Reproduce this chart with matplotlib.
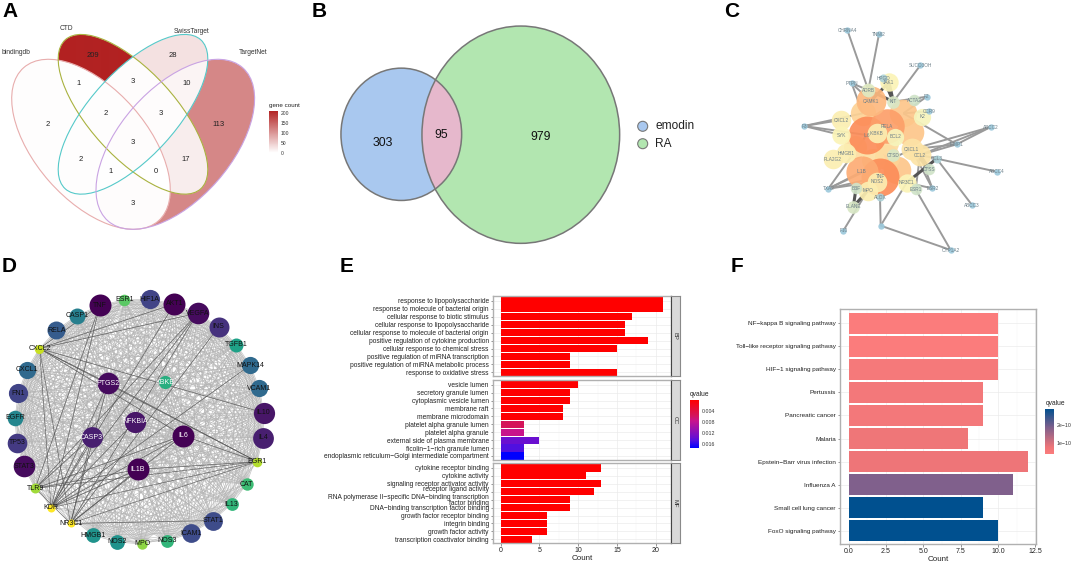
import numpy as np
import matplotlib
matplotlib.use('Agg')
import matplotlib.pyplot as plt
from matplotlib.collections import LineCollection
from matplotlib.colors import LinearSegmentedColormap, Normalize
from matplotlib.cm import ScalarMappable
from matplotlib.patches import Ellipse

plt.rcParams['font.family'] = ['Liberation Sans', 'DejaVu Sans']

W, H = 1072, 561

# --- panel A
venn_sets = ['bindingdb', 'CTD', 'SwissTarget', 'TargetNet']
venn_counts = {'b': 2, 'c': 209, 's': 28, 't': 113, 'bc': 1, 'cs': 3, 'st': 10, 'bcs': 2,
               'cst': 3, 'bcst': 3, 'bs': 2, 'ct': 17, 'bst': 1, 'bct': 0, 'bt': 3}
# --- panel B
b_left, b_both, b_right = 303, 95, 979
b_names = ['emodin', 'RA']
# --- panel C, node positions are the layout
c_names = ['CHRNA4', 'TNNI2', 'SUCO3OH', 'PTPN', 'F3', 'ABCC2', 'ABCC4', 'ABCC3', 'F10', 'TXA2', '', 'CYP1A2',
           'MMP1', 'ESR2', 'F2', 'CCR9', 'HPGD', 'ALOX', 'CCL3', 'CTSS', 'ACTA2', 'ELANE', 'BBF', 'ESR1', 'CTSD',
           'KIT', 'ADRB', 'JAK1', 'CXCL2', 'SYK', 'PLA2G2', 'HMGB1', 'NR3C1', 'MPO', 'K2', 'BCL2', 'IL2', 'CAMK1',
           'ICAM', 'TA', 'CXCL1', 'CCL2', 'NOS2', 'IKBKB', 'RELA', 'TNF', 'IL6', 'IL1B',
           'AKT1', 'PTGS2', 'VEGFA', 'STAT3', 'CASP3']
c_x = [322, 417, 541, 335, 192, 752, 770, 696, 310, 265, 422, 632,
       650, 577, 560, 568, 430, 420, 590, 568, 522, 340, 348, 527, 460,
       460, 385, 447, 303, 303, 278, 318, 500, 383, 547, 465, 440, 392,
       368, 490, 515, 540, 410, 410, 440, 420, 380, 365,
       510, 470, 400, 345, 440]
c_y = [90, 102, 196, 250, 378, 381, 515, 615, 692, 566, 677, 750,
       433, 565, 290, 334, 235, 592, 476, 507, 300, 620, 565, 568, 465,
       305, 270, 247, 360, 405, 477, 460, 548, 572, 350, 410, 430, 303,
       340, 340, 448, 465, 545, 400, 378, 530, 405, 515,
       395, 510, 480, 440, 470]
c_degree = [5.5, 5.5, 5.5, 5.5, 5.5, 5.5, 5.5, 5.5, 5.5, 5.5, 5.5, 5.5,
            5.5, 5.5, 5.5, 5.5, 7, 7, 7, 10, 10, 11, 10, 10, 11,
            11, 12, 16, 17, 16, 17, 17, 16, 17, 15, 15, 20, 26,
            22, 24, 19, 19, 17, 17, 30, 33, 33, 28,
            24, 24, 20, 20, 22]
# these sit underneath the biggest nodes and their labels can't be seen
c_hidden = ['AKT1', 'PTGS2', 'VEGFA', 'STAT3', 'CASP3', 'IL2', 'ICAM', 'TA']
c_edges = [('CHRNA4', 'ADRB'), ('TNNI2', 'ADRB'), ('SUCO3OH', 'KIT'), ('PTPN', 'ADRB'), ('PTPN', 'ICAM'),
           ('PTPN', 'CAMK1'), ('F3', 'CXCL2'), ('F3', 'SYK'), ('F3', 'ICAM'), ('F3', 'IL6'),
           ('ABCC2', 'MMP1'), ('ABCC2', 'CCL2'), ('ABCC2', 'CXCL1'), ('ABCC4', 'CCL2'), ('ABCC3', 'CCL3'),
           ('F10', 'MPO'), ('TXA2', 'CXCL1'), ('TXA2', 'TNF'), ('TXA2', 'IL1B'), ('TXA2', 'NOS2'), ('TXA2', 'IL6'),
           ('', 'ALOX'), ('', 'NR3C1'), ('', 'CYP1A2'), ('CYP1A2', 'ESR1'), ('MMP1', 'CCL2'), ('MMP1', 'CXCL1'),
           ('MMP1', 'TA'), ('ESR2', 'CCL2'), ('ESR2', 'CXCL1'), ('ESR2', 'NR3C1'), ('F2', 'TA'), ('F2', 'KIT'),
           ('CCR9', 'TA'), ('ALOX', 'NOS2'), ('ESR1', 'CCL2'), ('HPGD', 'KIT')]
c_dark_edges = [('JAK1', 'KIT'), ('JAK1', 'CAMK1'), ('HPGD', 'KIT'), ('ADRB', 'KIT'), ('BBF', 'ELANE'),
                ('MPO', 'ELANE'), ('CCL2', 'CTSS'), ('CXCL1', 'CTSS'), ('BBF', 'MPO'), ('NR3C1', 'CCL3')]
# --- panel D
d_ring = ['ESR1', 'HIF1A', 'AKT1', 'VEGFA', 'INS', 'TGFB1', 'MAPK14', 'VCAM1', 'IL10', 'IL4', 'EGR1', 'CAT',
          'IL13', 'STAT1', 'ICAM1', 'NOS3', 'MPO', 'NOS2', 'HMGB1', 'NR3C1', 'KDR', 'TLR9', 'STAT3', 'TP53',
          'EGFR', 'FN1', 'CXCL1', 'CXCL2', 'RELA', 'CASP1', 'TNF']
d_ring_degree = [10, 29, 36, 35, 31, 16, 24, 24, 34, 33, 5, 12,
                 13, 28, 28, 13, 7, 18, 18, 1, 1, 6, 35, 30,
                 20, 29, 24, 4, 26, 21, 36]
d_inner = ['KBKB', 'PTGS2', 'CASP3', 'IL1B', 'IL6', 'NFKBIA']
d_inner_degree = [14, 35, 33, 36, 36, 34]
d_dark = [('KDR', 'IL1B'), ('KDR', 'IL6'), ('KDR', 'CASP3'), ('KDR', 'PTGS2'), ('KDR', 'VEGFA'), ('KDR', 'TNF'),
          ('KDR', 'MAPK14'), ('KDR', 'AKT1'), ('KDR', 'EGR1'), ('KDR', 'CXCL2'), ('KDR', 'NFKBIA'),
          ('NR3C1', 'IL1B'), ('NR3C1', 'IL6'), ('NR3C1', 'CASP3'), ('NR3C1', 'PTGS2'), ('NR3C1', 'VEGFA'),
          ('NR3C1', 'STAT1'), ('NR3C1', 'EGR1'), ('NR3C1', 'INS'), ('NR3C1', 'CXCL2'), ('NR3C1', 'TLR9'),
          ('TLR9', 'IL1B'), ('TLR9', 'IL6'), ('TLR9', 'CASP3'), ('TLR9', 'VEGFA'), ('TLR9', 'TNF'), ('TLR9', 'EGR1'),
          ('CXCL2', 'AKT1'), ('CXCL2', 'VEGFA'), ('CXCL2', 'PTGS2'), ('CXCL2', 'TNF'), ('CXCL2', 'EGR1'),
          ('CXCL2', 'IL10'), ('CXCL2', 'IL6'), ('PTGS2', 'EGR1'), ('EGR1', 'IL6'), ('EGR1', 'IL1B')]
# --- panel E
e_terms = {
    'BP': ['response to lipopolysaccharide', 'response to molecule of bacterial origin',
           'cellular response to biotic stimulus', 'cellular response to lipopolysaccharide',
           'cellular response to molecule of bacterial origin', 'positive regulation of cytokine production',
           'cellular response to chemical stress', 'positive regulation of miRNA transcription',
           'positive regulation of miRNA metabolic process', 'response to oxidative stress'],
    'CC': ['vesicle lumen', 'secretory granule lumen', 'cytoplasmic vesicle lumen', 'membrane raft',
           'membrane microdomain', 'platelet alpha granule lumen', 'platelet alpha granule',
           'external side of plasma membrane', 'ficolin\u22121\u2212rich granule lumen',
           'endoplasmic reticulum\u2212Golgi intermediate compartment'],
    'MF': ['cytokine receptor binding', 'cytokine activity', 'signaling receptor activator activity',
           'receptor ligand activity\n ', 'RNA polymerase II\u2212specific DNA\u2212binding transcription\nfactor binding',
           'DNA\u2212binding transcription factor binding', 'growth factor receptor binding', 'integrin binding',
           'growth factor activity', 'transcription coactivator binding'],
}
e_counts = {'BP': [21, 21, 17, 16, 16, 19, 15, 9, 9, 15],
            'CC': [10, 9, 9, 8, 8, 3, 3, 5, 3, 3],
            'MF': [13, 11, 13, 12, 9, 9, 6, 6, 6, 4]}
e_qvalue = {'BP': [0.00001] * 10,
            'CC': [0.0001, 0.0001, 0.0001, 0.0002, 0.0002, 0.0055, 0.0075, 0.0135, 0.0145, 0.0173],
            'MF': [0.00001] * 10}
e_q_ticks = [0.004, 0.008, 0.012, 0.016]
# --- panel F
f_terms = ['NF\u2212kappa B signaling pathway', 'Toll\u2212like receptor signaling pathway', 'HIF\u22121 signaling pathway',
           'Pertussis', 'Pancreatic cancer', 'Malaria', 'Epstein\u2212Barr virus infection', 'Influenza A',
           'Small cell lung cancer', 'FoxO signaling pathway']
f_counts = [10, 10, 10, 9, 9, 8, 12, 11, 9, 10]
f_qvalue = [0.36e-10, 0.37e-10, 0.55e-10, 0.6e-10, 0.6e-10, 0.7e-10, 0.75e-10, 1.85e-10, 2.92e-10, 2.92e-10]

fig = plt.figure(figsize=(W / 100, H / 100), dpi=100, facecolor='white')


def px_axes(x0, y0, x1, y1, **kw):
    return fig.add_axes([x0 / W, 1 - y1 / H, (x1 - x0) / W, (y1 - y0) / H], **kw)


# whole figure axes in pixels, y pointing down, for the venns and the networks
ax = px_axes(0, 0, W, H)
ax.set_xlim(0, W)
ax.set_ylim(H, 0)
ax.axis('off')


def dot(d):
    return (d * 0.72) ** 2


for txt, x, y in [('A', 2, 17), ('B', 312, 17), ('C', 724, 17), ('D', 2, 272), ('E', 340, 272), ('F', 731, 272)]:
    ax.text(x, y, txt, fontsize=15, fontweight='bold', va='baseline', color='black')

# A: four set venn, regions filled from their counts
venn_cmap = LinearSegmentedColormap.from_list('venn', ['white', '#b22222'])
venn_norm = Normalize(0, 209)
ell = {'b': (91, 144.3, 102, 55.8), 'c': (133, 114.3, 100.7, 42.8),
       's': (133, 114.3, 100.7, 42.8), 't': (175.3, 144.3, 102, 55.8)}
ang = {'b': 48.7, 'c': 47.7, 's': -47.7, 't': -48.7}
gx, gy = np.meshgrid(np.arange(0, 265, 0.25), np.arange(20, 240, 0.25))
masks = {}
for k, (cx, cy, a, b) in ell.items():
    t = np.radians(ang[k])
    u = (gx - cx) * np.cos(t) + (gy - cy) * np.sin(t)
    v = -(gx - cx) * np.sin(t) + (gy - cy) * np.cos(t)
    masks[k] = (u / a) ** 2 + (v / b) ** 2 <= 1
img = np.ones(gx.shape + (4,))
img[..., 3] = 0
for region, n in venn_counts.items():
    m = np.ones(gx.shape, bool)
    for k in 'bcst':
        m &= masks[k] if k in region else ~masks[k]
    img[m] = venn_cmap(venn_norm(n))
    ax.text(gx[m].mean(), gy[m].mean(), str(n), fontsize=5.5, ha='center', va='center', color='#222222', zorder=3)
ax.imshow(img, extent=(-0.125, 264.875, 239.875, 19.875), interpolation='antialiased', aspect='auto', zorder=1)
ax.set_xlim(0, W)
ax.set_ylim(H, 0)
for k, c in zip('bcst', ['#e8adad', '#a9b23f', '#55c9c9', '#c9a3e3']):
    cx, cy, a, b = ell[k]
    ax.add_patch(Ellipse((cx, cy), 2 * a, 2 * b, angle=ang[k], fill=False, ec=c, lw=0.8, zorder=2))
for name, x, y in zip(venn_sets, [16, 66, 192, 253], [52, 28, 31, 52]):
    ax.text(x, y, name, fontsize=4.8, ha='center', va='center', color='#333333')
cax = px_axes(269, 110.7, 278, 152.7)
cb = fig.colorbar(ScalarMappable(venn_norm, venn_cmap), cax=cax, ticks=[0, 50, 100, 150, 200])
cb.outline.set_visible(False)
cax.tick_params(labelsize=3.6, length=0, pad=2, colors='#333333')
ax.text(269, 105, 'gene count', fontsize=4.5, va='center', color='#222222')

# B: two circle venn
blue = Ellipse((401.3, 134.3), 120.7, 132.3, fc='#a9c8ef', ec='none', zorder=1)
green = Ellipse((520.8, 134.7), 197.7, 217.3, fc='#b2e6b0', ec='none', zorder=1.1)
both = Ellipse((401.3, 134.3), 120.7, 132.3, fc='#e6b8cc', ec='none', zorder=1.2)
for p in (blue, green, both):
    ax.add_patch(p)
both.set_clip_path(Ellipse((520.8, 134.7), 197.7, 217.3, transform=ax.transData))
for cxy, w, h in [((401.3, 134.3), 120.7, 132.3), ((520.8, 134.7), 197.7, 217.3)]:
    ax.add_patch(Ellipse(cxy, w, h, fill=False, ec='#777777', lw=1.1, zorder=1.3))
for v, x, y in [(b_left, 382.5, 142.5), (b_both, 441.5, 134.5), (b_right, 540.5, 137)]:
    ax.text(x, y, str(v), fontsize=8.8, ha='center', va='center', color='#111111', zorder=2)
ax.scatter([642.7, 642.7], [126.3, 143.7], s=dot(10), c=['#a9c8ef', '#b2e6b0'], edgecolors='#777777', lw=0.8, zorder=2)
for nm, y in zip(b_names, [126.3, 143.7]):
    ax.text(655.5, y, nm, fontsize=8.6, va='center', color='#222222', zorder=2)

# C: force layout network, colour and size from degree
c_cmap = LinearSegmentedColormap.from_list('c', [(0, '#9cc9dc'), (0.158, '#cfe3c8'), (0.368, '#fbf6b9'),
                                                 (0.649, '#fdca8e'), (1, '#fc8d59')])
c_norm = Normalize(5.5, 33)
c_pos = {n: (740 + x / 3, y / 3) for n, x, y in zip(c_names, c_x, c_y)}
ax.add_collection(LineCollection([[c_pos[a], c_pos[b]] for a, b in c_edges], colors='#9a9a9a', linewidths=1.4, zorder=1))
ax.add_collection(LineCollection([[c_pos[a], c_pos[b]] for a, b in c_dark_edges], colors='#555555', linewidths=2.2, zorder=1))
c_order = sorted(range(len(c_names)), key=lambda i: (c_names[i] not in c_hidden, -c_degree[i]))
for z, i in enumerate(c_order):
    n = c_names[i]
    ax.scatter(*c_pos[n], s=dot(c_degree[i] * 1.15), color=c_cmap(c_norm(c_degree[i])), alpha=0.92, lw=0, zorder=1.5 + z * 0.01)
    if n not in c_hidden:
        ax.text(*c_pos[n], n, fontsize=3.4, ha='center', va='center', color='#6d7f88', zorder=2.5)

# D: circular layout with a pentagon inside
d_xy = {}
for i, n in enumerate(d_ring):
    t = np.radians(97 - i * 360 / len(d_ring))
    d_xy[n] = (139.5 + 124.5 * np.cos(t), 421.5 - 122.5 * np.sin(t))
for i, n in enumerate(d_inner[:5]):
    t = np.radians(55 + i * 72)
    d_xy[n] = (137 + 48 * np.cos(t), 421.5 - 48 * np.sin(t))
d_xy[d_inner[5]] = (135, 421.5)
d_deg = dict(zip(d_ring + d_inner, d_ring_degree + d_inner_degree))
d_nodes = d_ring + d_inner
light = []
for i, a in enumerate(d_nodes):
    for b in d_nodes[i + 1:]:
        if d_deg[a] + d_deg[b] >= 22:
            light.append([d_xy[a], d_xy[b]])
ax.add_collection(LineCollection(light, colors='#b4b4b4', linewidths=0.5, alpha=0.8, zorder=1))
ax.add_collection(LineCollection([[d_xy[a], d_xy[b]] for a, b in d_dark], colors='#4d4d4d', linewidths=0.5, alpha=0.8, zorder=1.1))
for n in d_nodes:
    d = 8 + 14 * (d_deg[n] - 1) / 35
    ax.scatter(*d_xy[n], s=dot(d), color=plt.cm.viridis_r((d_deg[n] - 1) / 35), lw=0, zorder=2)
    col = 'white' if n in d_inner else '#111111'
    ax.text(*d_xy[n], n, fontsize=5, ha='center', va='center', color=col, zorder=3)


# ggplot style axes for E and F
def style(a, xlim):
    a.set_xlim(*xlim)
    a.grid(True, which='major', color='#ebebeb', lw=0.5)
    a.grid(True, which='minor', color='#f2f2f2', lw=0.3)
    a.set_axisbelow(True)
    for s in a.spines.values():
        s.set_color('#b0b0b0')
        s.set_linewidth(1.0)
    a.tick_params(which='major', length=1.8, width=0.4, color='#444444', labelcolor='#222222', pad=1)
    a.tick_params(which='minor', length=0)


# E: three facets
e_cmap = LinearSegmentedColormap.from_list('q', [(0, '#ff0000'), (0.318, '#d4145a'), (0.433, '#c8148c'),
                                                 (0.78, '#6a0fd0'), (0.84, '#5010e0'), (1, '#0000ff')])
e_norm = Normalize(0, 0.0173)
e_boxes = {'BP': (296, 376), 'CC': (379.7, 459.7), 'MF': (463, 543)}
for key, (y0, y1) in e_boxes.items():
    a = px_axes(492.7, y0, 671, y1)
    ypos = np.arange(10)
    a.barh(ypos, e_counts[key], height=0.9, color=e_cmap(e_norm(e_qvalue[key])))
    a.set_ylim(9.47, -0.63)
    style(a, (-1.03, 21.97))
    a.set_yticks(ypos)
    a.set_yticklabels(e_terms[key], fontsize=4.75, linespacing=0.95)
    a.set_xticks([0, 5, 10, 15, 20])
    a.set_xticks([2.5, 7.5, 12.5, 17.5], minor=True)
    if key == 'MF':
        a.tick_params(axis='x', labelsize=5)
        a.set_xlabel('Count', fontsize=5.8, labelpad=0.5, color='#222222')
    else:
        a.tick_params(axis='x', length=0, labelbottom=False)
    st = px_axes(671, y0, 680, y1)
    st.set_facecolor('#d9d9d9')
    st.set_xticks([])
    st.set_yticks([])
    for s in st.spines.values():
        s.set_color('#8a8a8a')
        s.set_linewidth(0.8)
    st.spines['left'].set_color('#444444')
    st.text(0.5, 0.5, key, rotation=-90, fontsize=4.2, ha='center', va='center', color='#333333', transform=st.transAxes)

cax = px_axes(690, 400, 699.3, 448)
cb = fig.colorbar(ScalarMappable(e_norm, e_cmap), cax=cax, ticks=e_q_ticks)
cax.invert_yaxis()
cb.outline.set_visible(False)
cax.tick_params(labelsize=3.8, length=0, pad=2, colors='#333333')
ax.text(690, 394.5, 'qvalue', fontsize=4.8, va='center', color='#222222')

# F
f_cmap = LinearSegmentedColormap.from_list('q2', [(0, '#fb7c7c'), (0.15, '#ee7578'), (0.58, '#80608c'), (1, '#00508f')])
f_norm = Normalize(0.36e-10, 2.92e-10)
a = px_axes(839.7, 309.3, 1036, 544)
ypos = np.arange(10)
a.barh(ypos, f_counts, height=0.9, color=f_cmap(f_norm(f_qvalue)))
a.set_ylim(9.58, -0.61)
style(a, (-0.6, 12.55))
a.set_yticks(ypos)
a.set_yticklabels(f_terms, fontsize=4.6)
a.set_xticks([0, 2.5, 5, 7.5, 10, 12.5])
a.set_xticklabels(['0.0', '2.5', '5.0', '7.5', '10.0', '12.5'], fontsize=5)
a.set_xticks([1.25, 3.75, 6.25, 8.75, 11.25], minor=True)
a.set_xlabel('Count', fontsize=5.8, labelpad=0.5, color='#222222')

cax = px_axes(1045.3, 408.7, 1054, 454)
cb = fig.colorbar(ScalarMappable(f_norm, f_cmap), cax=cax, ticks=[1e-10, 2e-10])
cb.ax.set_yticklabels(['1e\u221210', '2e\u221210'])
cb.outline.set_visible(False)
cax.tick_params(labelsize=3.8, length=0, pad=2, colors='#333333')
ax.text(1045.3, 403, 'qvalue', fontsize=4.8, va='center', color='#222222')

fig.savefig('out.png', dpi=100)
